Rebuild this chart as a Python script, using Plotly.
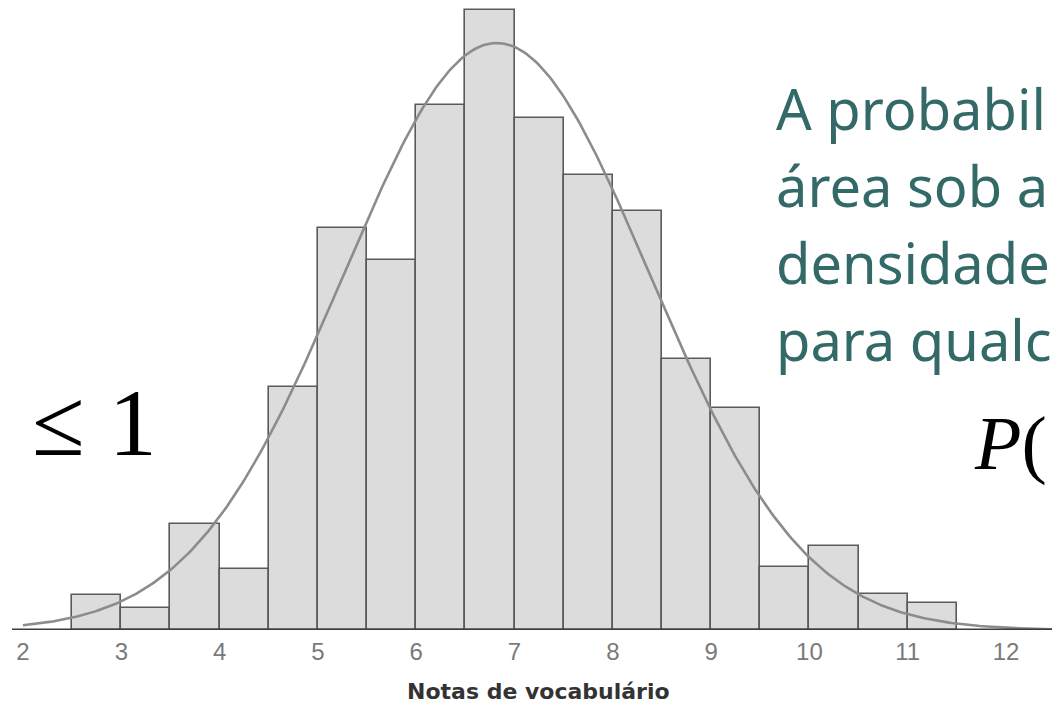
import numpy as np
import plotly.graph_objects as go

# Histogram data (bins of width 0.5)
bin_left = [2.5, 3.0, 3.5, 4.0, 4.5, 5.0, 5.5, 6.0, 6.5, 7.0, 7.5, 8.0, 8.5, 9.0, 9.5, 10.0, 10.5, 11.0]
freq = [3.5, 2.2, 10.6, 6.1, 24.3, 40.2, 37.0, 52.5, 62.0, 51.2, 45.5, 41.9, 27.1, 22.2, 6.3, 8.4, 3.6, 2.7]
bin_width = 0.5

# Fitted normal curve parameters
curve_mu = 6.82
curve_sigma = 1.555
curve_peak = 58.7

tick_vals = [2, 3, 4, 5, 6, 7, 8, 9, 10, 11, 12]
tick_text = [str(v) for v in tick_vals]
x_title = "Notas de vocabulário"
side_lines = ["A probabil", "área sob a", "densidade", "para qualc"]

centers = [b + bin_width / 2 for b in bin_left]
xc = np.linspace(2.0, 12.47, 400)
yc = curve_peak * np.exp(-((xc - curve_mu) ** 2) / (2 * curve_sigma ** 2))

W, H = 1052, 703
plot_h = 630
x0 = 1.766
x1 = x0 + W / 98.3

fig = go.Figure()
fig.add_trace(go.Bar(
    x=centers, y=freq, width=bin_width,
    marker=dict(color="#dcdcdc", line=dict(color="#5a5a5a", width=1.6)),
    showlegend=False, hoverinfo="skip"))
fig.add_trace(go.Scatter(
    x=xc, y=yc, mode="lines",
    line=dict(color="#8c8c8c", width=2.6),
    showlegend=False, hoverinfo="skip"))

# baseline
fig.add_shape(type="line", xref="x", yref="y",
              x0=x0 + 12 / 98.3, x1=x1, y0=0, y1=0,
              line=dict(color="#3c3c3c", width=3))


def py(p):
    return (plot_h - p) / plot_h


annotations = []
line_centers = [108, 185, 262, 339]
for txt, c in zip(side_lines, line_centers):
    annotations.append(dict(
        text=txt, xref="paper", yref="paper", x=774 / W, y=py(c),
        xanchor="left", yanchor="middle", showarrow=False,
        font=dict(family="Noto Sans", size=56, color="#336966")))

annotations.append(dict(
    text="≤ 1", xref="paper", yref="paper", x=30 / W, y=py(422),
    xanchor="left", yanchor="middle", showarrow=False,
    font=dict(family="Liberation Serif", size=96, color="#000000")))
annotations.append(dict(
    text="<i>P</i>(", xref="paper", yref="paper", x=972 / W, y=py(444),
    xanchor="left", yanchor="middle", showarrow=False,
    font=dict(family="Liberation Serif", size=76, color="#000000")))
annotations.append(dict(
    text=x_title, xref="x", yref="paper", x=7.24, y=py(691),
    xanchor="center", yanchor="middle", showarrow=False,
    font=dict(family="DejaVu Sans", size=22, color="#333333", weight="bold")))

fig.update_layout(
    width=W, height=H,
    margin=dict(l=0, r=0, t=0, b=H - plot_h),
    paper_bgcolor="white", plot_bgcolor="white",
    bargap=0,
    xaxis=dict(range=[x0, x1], tickmode="array", tickvals=tick_vals, ticktext=tick_text,
               showgrid=False, zeroline=False, showline=False, ticks="",
               ticklabelstandoff=5,
               tickfont=dict(family="Liberation Sans", size=24, color="#7a7a7a")),
    yaxis=dict(range=[0, 63], visible=False),
    annotations=annotations,
)

fig.write_html("out.html", config={"displayModeBar": False},
               post_script="document.body.style.margin='0';")
